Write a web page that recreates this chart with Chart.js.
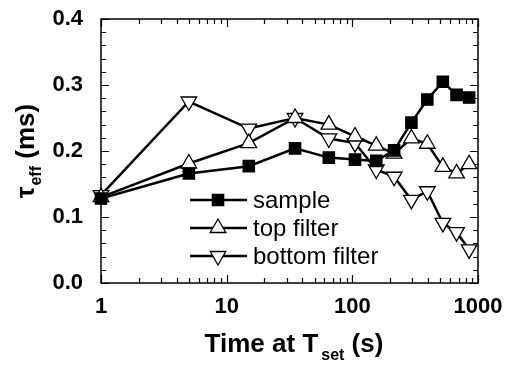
<!DOCTYPE html>
<html lang="en">
<head>
  <meta charset="UTF-8" />
  <title>tau_eff vs time</title>
  <script src="https://cdn.jsdelivr.net/npm/chart.js"></script>
  <style>
    body { margin: 0; background: #fff; }
    #wrap { width: 506px; height: 365px; }
  </style>
</head>
<body>
  <div id="wrap"><canvas id="graph" width="506" height="365"></canvas></div>

  <script>
    // time at T_set (s)
    const times = [1, 5, 15, 35, 65, 105, 155, 215, 295, 395, 525, 675, 850];
    // tau_eff (ms)
    const sample = [0.128, 0.166, 0.177, 0.204, 0.190, 0.187, 0.185, 0.201, 0.243, 0.278, 0.305, 0.285, 0.281];
    const topFilter = [0.130, 0.181, 0.212, 0.250, 0.240, 0.222, 0.208, 0.196, 0.219, 0.211, 0.176, 0.166, 0.180];
    const bottomFilter = [0.133, 0.275, 0.234, 0.250, 0.219, 0.212, 0.172, 0.161, 0.126, 0.139, 0.091, 0.077, 0.051];

    const xMajor = [1, 10, 100, 1000];
    const yMajor = [0, 0.1, 0.2, 0.3, 0.4];

    const FONT = "'Liberation Sans', Arial, sans-serif";

    function pts(ys) {
      return times.map((t, i) => ({ x: t, y: ys[i] }));
    }

    function serie(label, ys, style, rot, fill) {
      return {
        label: label,
        data: pts(ys),
        borderColor: '#000',
        borderWidth: 2.5,
        pointStyle: style,
        rotation: rot,
        pointRadius: style === 'rect' ? 8 : 9,
        pointBackgroundColor: fill,
        pointBorderColor: '#000',
        pointBorderWidth: 1.3,
        tension: 0,
        clip: false
      };
    }

    // cadre + graduations vers l'intérieur sur les 4 côtés
    const frame = {
      id: 'frame',
      beforeDatasetsDraw(chart) {
        const { ctx, chartArea: a, scales: { x, y } } = chart;
        ctx.save();
        ctx.strokeStyle = '#000';
        ctx.lineWidth = 1.5;
        ctx.strokeRect(a.left, a.top, a.right - a.left, a.bottom - a.top);
        ctx.lineWidth = 1.2;
        ctx.beginPath();
        for (let d = 1; d < 1000; d *= 10) {
          for (let k = 1; k <= 10; k++) {
            const px = Math.round(x.getPixelForValue(d * k)) + 0.5;
            const len = (k === 1 || k === 10) ? 8 : 5;
            ctx.moveTo(px, a.bottom); ctx.lineTo(px, a.bottom - len);
            ctx.moveTo(px, a.top); ctx.lineTo(px, a.top + len);
          }
        }
        for (let i = 0; i <= 20; i++) {
          const py = Math.round(y.getPixelForValue(i * 0.02)) + 0.5;
          const len = (i % 5 === 0) ? 8 : 5;
          ctx.moveTo(a.left, py); ctx.lineTo(a.left + len, py);
          ctx.moveTo(a.right, py); ctx.lineTo(a.right - len, py);
        }
        ctx.stroke();
        ctx.restore();
      }
    };

    // légende dans la zone du graphe + titres avec indices
    const extras = {
      id: 'extras',
      afterDatasetsDraw(chart) {
        const { ctx } = chart;
        ctx.save();
        const rows = [200, 228, 256];
        chart.data.datasets.forEach((ds, i) => {
          const yy = rows[i];
          ctx.strokeStyle = '#000';
          ctx.lineWidth = 2.5;
          ctx.beginPath();
          ctx.moveTo(190, yy); ctx.lineTo(247, yy);
          ctx.stroke();
          ctx.fillStyle = ds.pointBackgroundColor;
          ctx.strokeStyle = '#000';
          ctx.lineWidth = ds.pointBorderWidth;
          Chart.helpers.drawPoint(ctx, {
            pointStyle: ds.pointStyle, radius: ds.pointRadius,
            rotation: ds.rotation, borderWidth: ds.pointBorderWidth
          }, 218, yy);
          ctx.fillStyle = '#000';
          ctx.font = '24px ' + FONT;
          ctx.textAlign = 'left';
          ctx.textBaseline = 'middle';
          ctx.fillText(ds.label, 253, yy + 1);
        });

        // titre axe x : Time at T_set (s)
        ctx.fillStyle = '#000';
        ctx.textBaseline = 'alphabetic';
        ctx.textAlign = 'left';
        const big = 'bold 26px ' + FONT, small = 'bold 16px ' + FONT;
        ctx.font = big; const w1 = ctx.measureText('Time at T').width;
        ctx.font = small; const w2 = ctx.measureText('set').width;
        ctx.font = big; const w3 = ctx.measureText(' (s)').width;
        let x0 = 294 - (w1 + w2 + w3 + 3) / 2;
        const base = 352;
        ctx.font = big; ctx.fillText('Time at T', x0, base);
        ctx.font = small; ctx.fillText('set', x0 + w1 + 3, base + 8);
        ctx.font = big; ctx.fillText(' (s)', x0 + w1 + 3 + w2, base);

        // titre axe y : tau_eff (ms)
        ctx.translate(34, 151);
        ctx.rotate(-Math.PI / 2);
        ctx.font = big; const v1 = ctx.measureText('τ').width;
        ctx.font = small; const v2 = ctx.measureText('eff').width;
        ctx.font = big; const v3 = ctx.measureText(' (ms)').width;
        x0 = -(v1 + v2 + v3 + 1) / 2;
        ctx.font = big; ctx.fillText('τ', x0, 0);
        ctx.font = small; ctx.fillText('eff', x0 + v1 + 1, 7);
        ctx.font = big; ctx.fillText(' (ms)', x0 + v1 + 1 + v2, 0);
        ctx.restore();
      }
    };

    const ctx = document.getElementById('graph').getContext('2d');

    const chart = new Chart(ctx, {
      type: 'line',
      data: {
        datasets: [
          serie('sample', sample, 'rect', 0, '#000'),
          serie('top filter', topFilter, 'triangle', 0, '#fff'),
          serie('bottom filter', bottomFilter, 'triangle', 180, '#fff')
        ]
      },
      options: {
        responsive: false,
        animation: false,
        layout: { padding: { top: 19, right: 28, left: 0, bottom: 0 } },
        plugins: {
          legend: { display: false },
          tooltip: { enabled: false }
        },
        scales: {
          x: {
            type: 'logarithmic',
            min: 1,
            max: 1000,
            afterBuildTicks: s => { s.ticks = xMajor.map(v => ({ value: v })); },
            afterFit: s => { s.height = 82; s.paddingLeft = 0; s.paddingRight = 0; },
            grid: { display: false, drawTicks: false },
            border: { display: false },
            ticks: {
              autoSkip: false,
              maxRotation: 0,
              padding: 11,
              color: '#000',
              font: { family: FONT, size: 22, weight: 'bold' },
              callback: v => String(v)
            }
          },
          y: {
            min: 0,
            max: 0.4,
            afterBuildTicks: s => { s.ticks = yMajor.map(v => ({ value: v })); },
            afterFit: s => { s.width = 101; s.paddingTop = 0; s.paddingBottom = 0; },
            grid: { display: false, drawTicks: false },
            border: { display: false },
            ticks: {
              padding: 18,
              color: '#000',
              font: { family: FONT, size: 22, weight: 'bold' },
              callback: v => v.toFixed(1)
            }
          }
        }
      },
      plugins: [frame, extras]
    });
  </script>
</body>
</html>
